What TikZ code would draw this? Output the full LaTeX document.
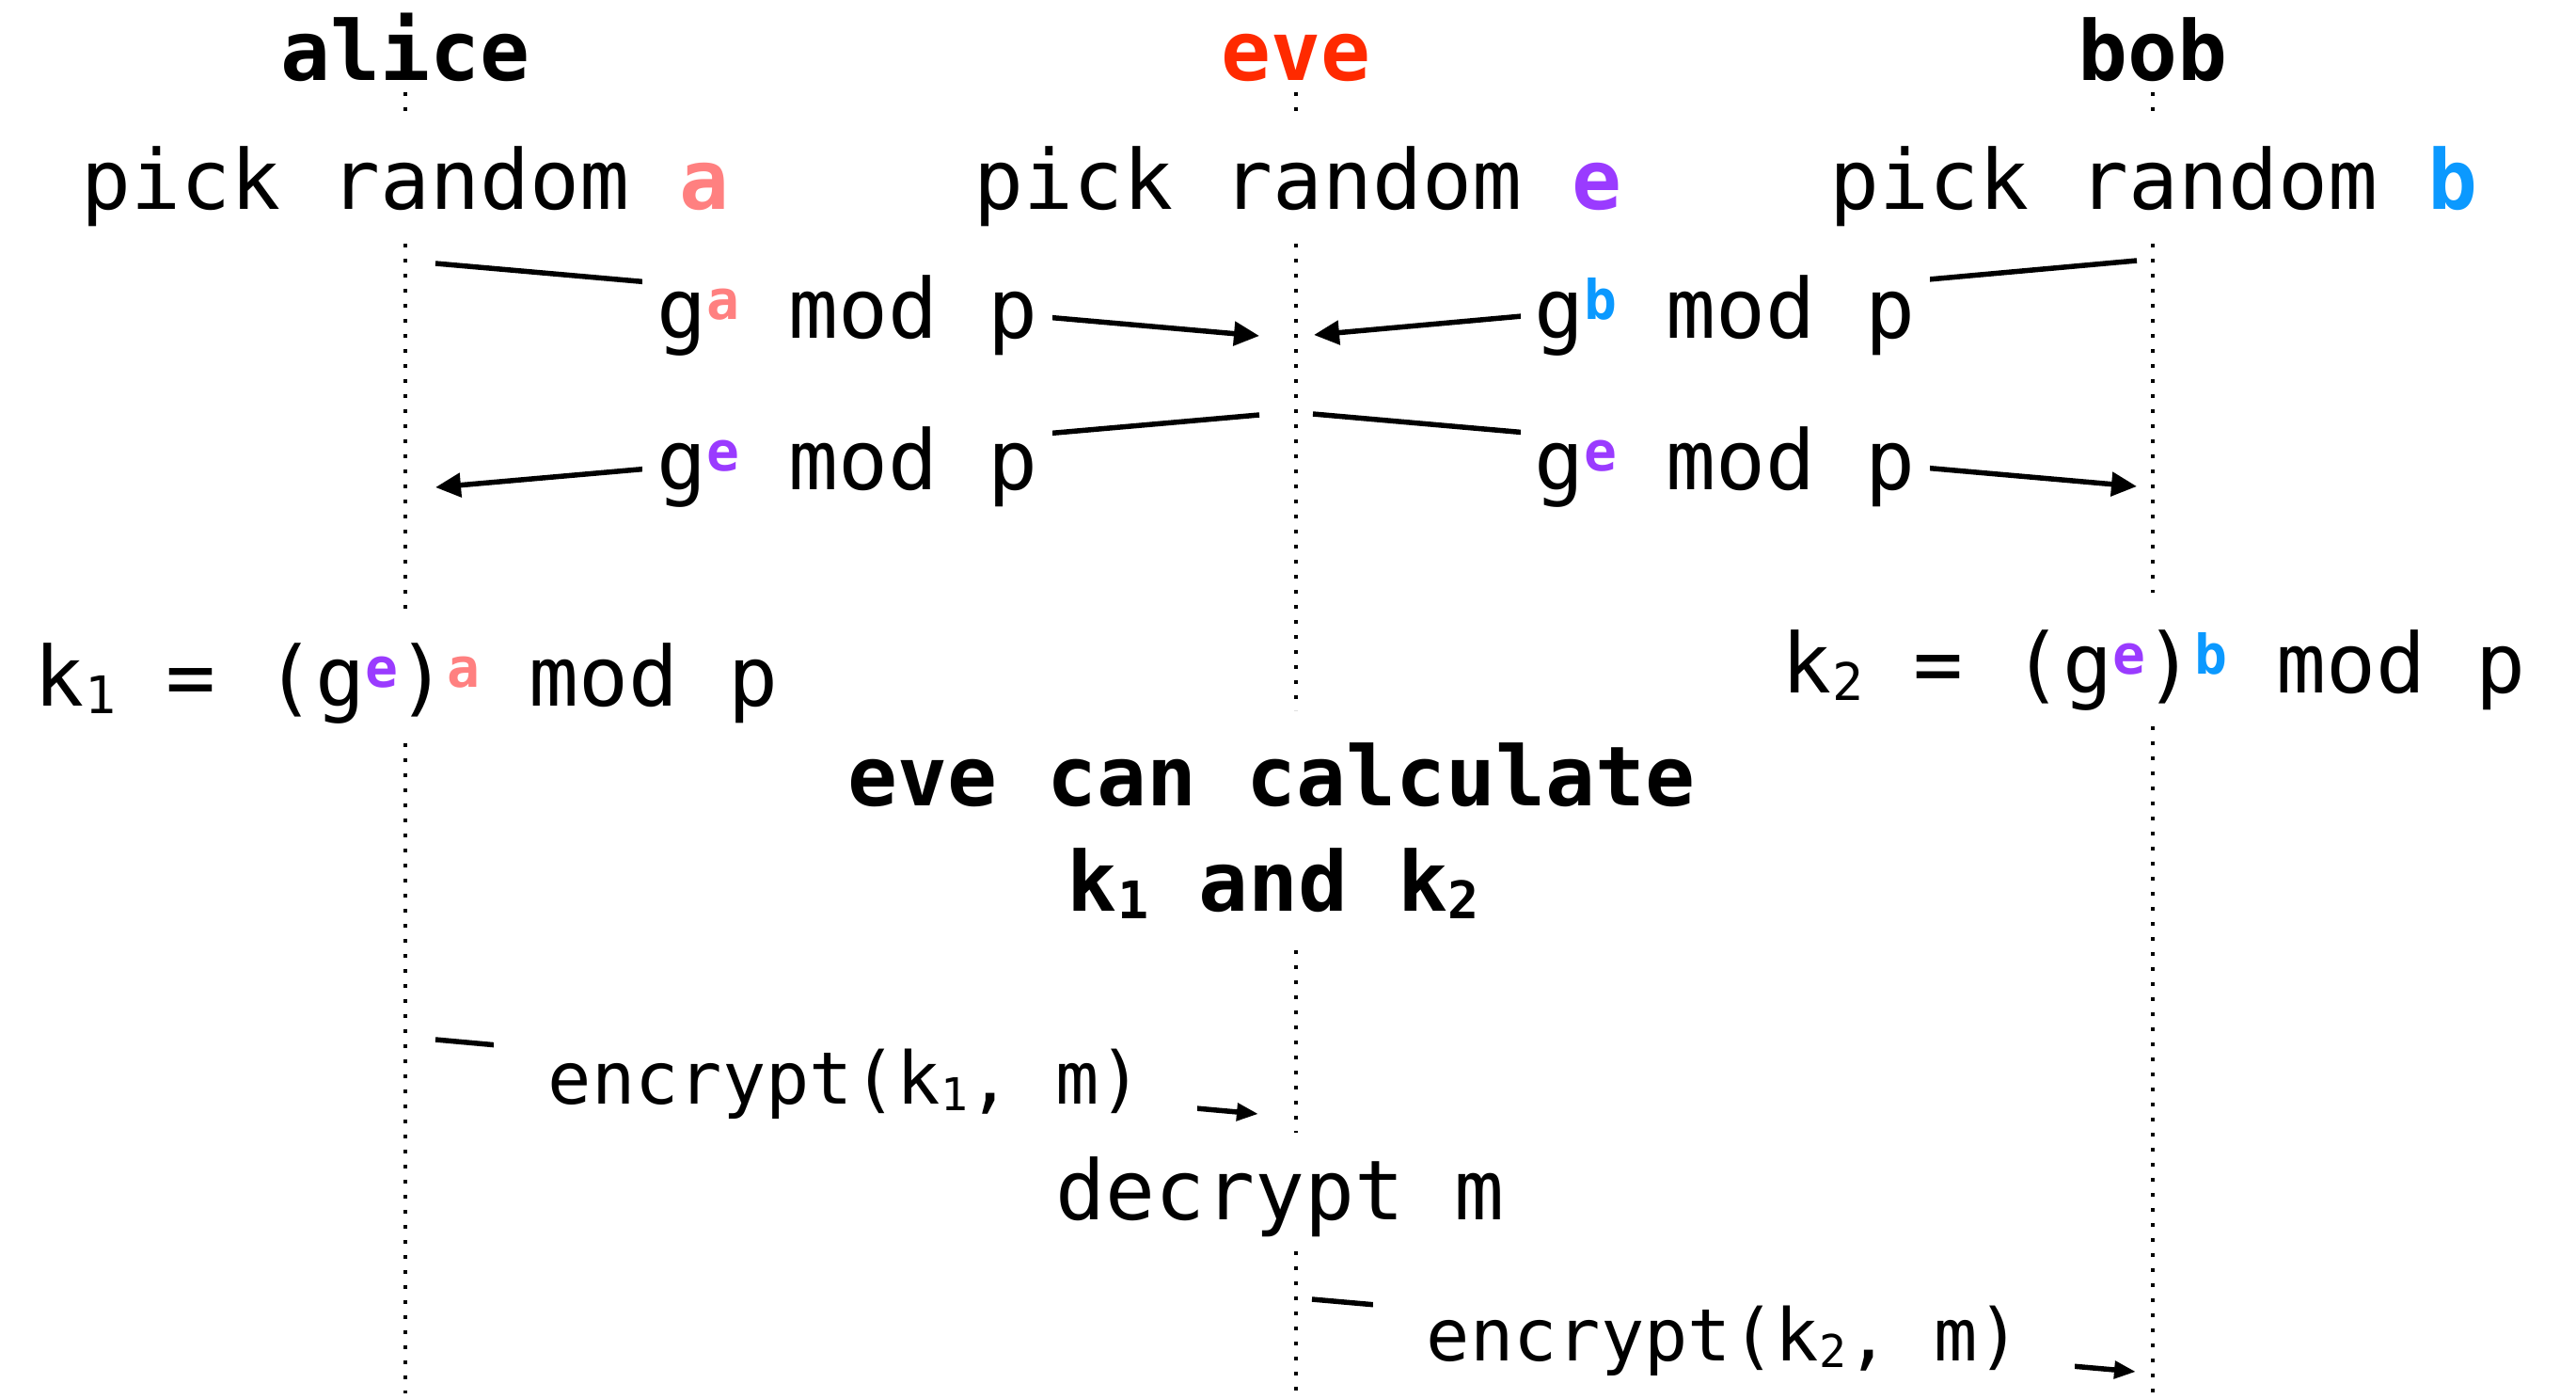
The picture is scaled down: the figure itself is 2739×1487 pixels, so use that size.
\documentclass[tikz,border=0pt]{standalone}
\usepackage{fontspec}
\setmainfont{DejaVu Sans Mono}
\usetikzlibrary{arrows.meta}
\definecolor{evered}{HTML}{FF2A00}
\definecolor{acol}{HTML}{FF8080}
\definecolor{ecol}{HTML}{9A3BFF}
\definecolor{bcol}{HTML}{0B99FF}
\newcommand\supC[2]{\makebox[34pt]{\raisebox{20pt}{\fontsize{58pt}{58pt}\selectfont\bfseries\color{#1}#2}}}
\newcommand\subC[1]{\makebox[34pt]{\raisebox{-8pt}{\fontsize{55pt}{55pt}\selectfont #1}}}
\newcommand\subS[1]{\makebox[30pt]{\raisebox{-7pt}{\fontsize{48pt}{48pt}\selectfont #1}}}
\newcommand\colL[2]{\textcolor{#1}{\bfseries #2}}
\begin{document}
\begin{tikzpicture}[x=1pt,y=-1pt,
  txt/.style={inner sep=0pt, anchor=base, font=\fontsize{88pt}{106pt}\selectfont},
  ttl/.style={inner sep=0pt, anchor=base, font=\fontsize{88pt}{106pt}\selectfont\bfseries},
  lbl/.style={txt, fill=white, minimum height=110pt},
  sml/.style={inner sep=0pt, anchor=base, fill=white, minimum height=110pt, font=\fontsize{77pt}{92pt}\selectfont},
  life/.style={line width=4.5pt, dash pattern=on 4pt off 12pt},
  msg/.style={line width=5.5pt, -{Triangle[length=27pt,width=25pt]}},
  msgs/.style={line width=5.5pt, -{Triangle[length=23pt,width=18pt]}}]
\useasboundingbox (0,0) rectangle (2739,1487);

% titles
\node[ttl] (alice) at (431,86) {alice};
\node[ttl, text=evered] (eve) at (1378,86) {eve};
\node[ttl] (bob) at (2289,86) {bob};

% pick random
\node[txt] (pa) at (431,223) {pick random \colL{acol}{a}};
\node[txt] (pe) at (1380,223) {pick random \colL{ecol}{e}};
\node[txt] (pb) at (2290,223) {pick random \colL{bcol}{b}};

% lifelines
\coordinate (la0) at (431,98);  \coordinate (la1) at (431,121);
\coordinate (la2) at (431,259); \coordinate (la3) at (431,650);
\coordinate (la4) at (431,790); \coordinate (la5) at (431,1481);
\coordinate (le0) at (1378,98);  \coordinate (le1) at (1378,121);
\coordinate (le2) at (1378,259); \coordinate (le3) at (1378,755);
\coordinate (le4) at (1378,1010); \coordinate (le5) at (1378,1204);
\coordinate (le6) at (1378,1330); \coordinate (le7) at (1378,1481);
\coordinate (lb0) at (2289,98);  \coordinate (lb1) at (2289,121);
\coordinate (lb2) at (2289,259); \coordinate (lb3) at (2289,630);
\coordinate (lb4) at (2289,772); \coordinate (lb5) at (2289,1481);
\draw[life] (la0) -- (la1) (la2) -- (la3) (la4) -- (la5);
\draw[life] (le0) -- (le1) (le2) -- (le3) (le4) -- (le5) (le6) -- (le7);
\draw[life] (lb0) -- (lb1) (lb2) -- (lb3) (lb4) -- (lb5);

% message end points
\coordinate (m1s) at (463,280);   \coordinate (m1e) at (1339,357);
\coordinate (m2s) at (2272,277);  \coordinate (m2e) at (1397,356);
\coordinate (m3s) at (1339,441);  \coordinate (m3e) at (463,518);
\coordinate (m4s) at (1396,440);  \coordinate (m4e) at (2272,517);
\coordinate (m5s) at (463,1105);  \coordinate (m5e) at (1338,1184);
\coordinate (m6s) at (1395,1381); \coordinate (m6e) at (2271,1458);

\draw[msg] (m1s) -- (m1e);
\draw[msg] (m2s) -- (m2e);
\draw[msg] (m3s) -- (m3e);
\draw[msg] (m4s) -- (m4e);
\draw[msgs] (m5s) -- (m5e);
\draw[msgs] (m6s) -- (m6e);

% message labels
\node[lbl, minimum width=436pt] (t1) at (901,360) {g\supC{acol}{a} mod p};
\node[lbl, minimum width=435pt] (t2) at (1834,360) {g\supC{bcol}{b} mod p};
\node[lbl, minimum width=436pt] (t3) at (901,520) {g\supC{ecol}{e} mod p};
\node[lbl, minimum width=435pt] (t4) at (1834,520) {g\supC{ecol}{e} mod p};
\node[sml, minimum width=748pt] (t5) at (899,1173) {encrypt(k\subS{1}, m)};
\node[sml, minimum width=746pt] (t6) at (1833,1446) {encrypt(k\subS{2}, m)};

% keys
\node[txt] (k1) at (432,750) {k\subC{1} = (g\supC{ecol}{e})\supC{acol}{a} mod p};
\node[txt] (k2) at (2290,736) {k\subC{2} = (g\supC{ecol}{e})\supC{bcol}{b} mod p};

% eve
\node[ttl] (calc1) at (1352,856) {eve can calculate};
\node[ttl] (calc2) at (1354,968) {k\subC{1} and k\subC{2}};
\node[txt] (dec) at (1361,1296) {decrypt m};
\end{tikzpicture}
\end{document}
